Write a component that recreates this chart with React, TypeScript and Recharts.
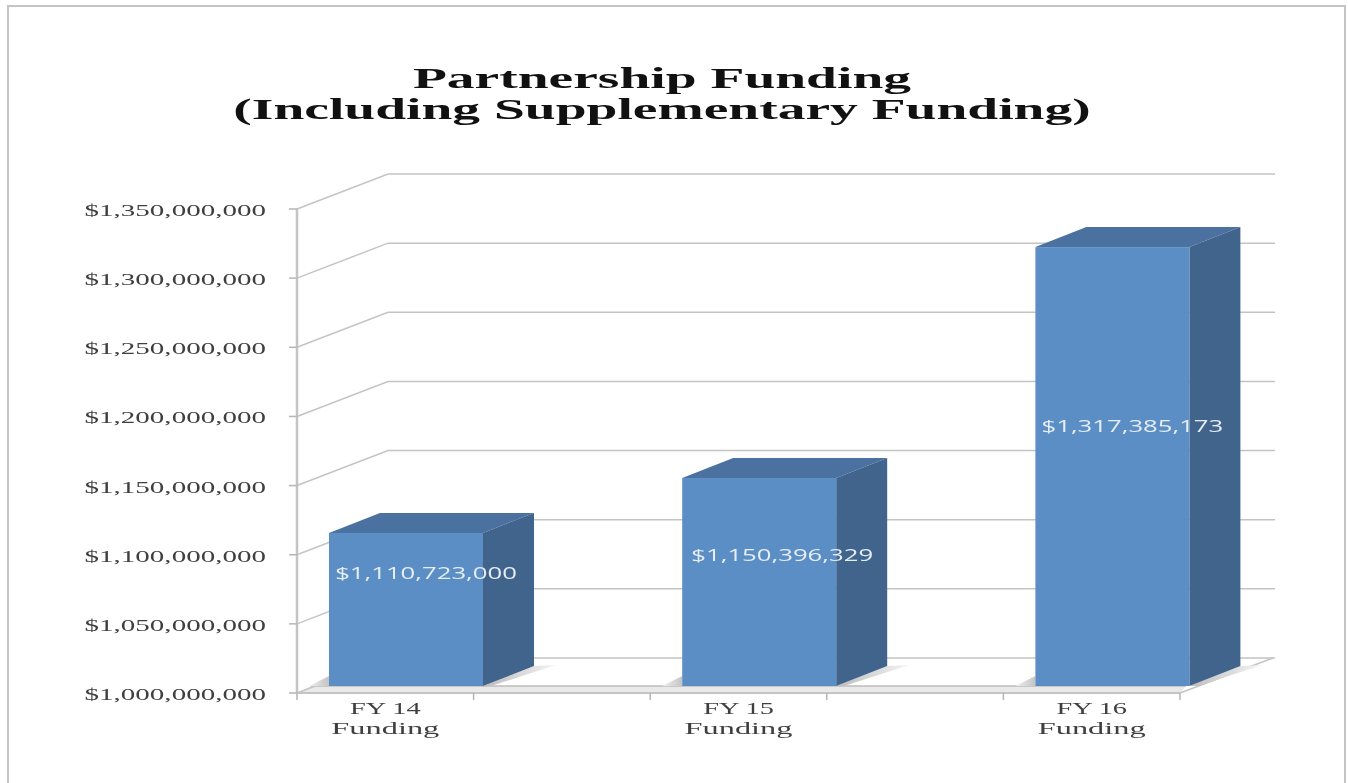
import { BarChart, Bar, XAxis, YAxis, CartesianGrid, LabelList } from 'recharts'

const categories = ['FY 14\nFunding', '', 'FY 15\nFunding', '', 'FY 16\nFunding']
const funding = [1110723000, null, 1150396329, null, 1317385173]
const yTicks = [1000000000, 1050000000, 1100000000, 1150000000, 1200000000, 1250000000, 1300000000, 1350000000]
const titleLines = ['Partnership Funding', '(Including Supplementary Funding)']

const data = categories.map((name, i) => ({ name, funding: funding[i] }))

const SERIF = '"Liberation Serif", serif'
const SANS = '"Open Sans", sans-serif'

// fake 3d: wall depth and bar depth, in px
const WALL_DX = 91
const WALL_DY = -35
const WALL_END = 1275
const BAR_DX = 51
const BAR_DY = -20
const BAR_SHIFT_X = 21
const BAR_SHIFT_Y = -7
const BAND = 176.6
const GRID = '#c4c4c4'

// where each value label sits relative to its bar
const labelDrops = [40, 77, 179]
const labelShifts = [20, 23, 20]

const money = (v: number) => '$' + v.toLocaleString('en-US')

function Stretched({ x, y, sx, children, ...rest }: any) {
  return (
    <text transform={`translate(${x},${y}) scale(${sx},1)`} {...rest}>
      {children}
    </text>
  )
}

function WallLine(props: any) {
  const { x1, x2, y1 } = props
  const bx = x1 + WALL_DX
  const by = y1 + WALL_DY
  const isFloor = y1 > 680
  return (
    <g key={`wall-${y1}`}>
      {isFloor && (
        <>
          <polygon
            points={`${x1},${y1} ${x2},${y1} ${x2 + 6},${y1 - 7} ${x1 + 14},${y1 - 7}`}
            fill="#e9e9e9"
          />
          <line x1={x1 + 14} x2={x2 + 6} y1={y1 - 7} y2={y1 - 7} stroke="#bdbdbd" strokeWidth={1.5} />
          <line x1={x2} y1={y1} x2={x2 + WALL_DX + 2} y2={by} stroke={GRID} strokeWidth={1.5} />
        </>
      )}
      <polyline
        points={`${x1},${y1} ${bx},${by} ${WALL_END},${by}`}
        fill="none"
        stroke={GRID}
        strokeWidth={1.5}
      />
    </g>
  )
}

function Box3D(props: any) {
  const { x, y, width, height, value } = props
  if (value == null || !height) return null
  const l = x + BAR_SHIFT_X
  const r = l + width
  const t = y + BAR_SHIFT_Y
  const b = t + height
  return (
    <g>
      <polygon points={`${l},${b} ${l},${b - 10} ${l - 20},${b}`} fill="url(#shadowLeft)" />
      <polygon
        points={`${r},${b} ${r + BAR_DX},${b + BAR_DY} ${r + BAR_DX + 22},${b + BAR_DY - 1} ${r + 8},${b}`}
        fill="url(#shadowRight)"
      />
      <polygon
        points={`${l},${t} ${l + BAR_DX},${t + BAR_DY} ${r + BAR_DX},${t + BAR_DY} ${r},${t}`}
        fill="#4a719f"
      />
      <polygon
        points={`${r},${t} ${r + BAR_DX},${t + BAR_DY} ${r + BAR_DX},${b + BAR_DY} ${r},${b}`}
        fill="#41648d"
      />
      <rect x={l} y={t} width={width} height={height} fill="#5b8ec4" />
    </g>
  )
}

function ValueLabel(props: any) {
  const { x, y, width, value, index } = props
  if (value == null) return null
  return (
    <Stretched
      x={x + width / 2 + BAR_SHIFT_X + labelShifts[index]}
      y={y + BAR_SHIFT_Y + labelDrops[index] + 6}
      sx={1.66}
      textAnchor="middle"
      fontFamily={SANS}
      fontSize={15.5}
      fill="#e6edf5"
    >
      {money(value)}
    </Stretched>
  )
}

function YTick({ y, payload }: any) {
  return (
    <Stretched
      x={266}
      y={y + 7}
      sx={1.66}
      textAnchor="end"
      fontFamily={SERIF}
      fontSize={17.5}
      fill="#3f3f3f"
    >
      {money(payload.value)}
    </Stretched>
  )
}

function XTick({ x, y, payload, index }: any) {
  const lines = String(payload.value).split('\n')
  return (
    <g>
      <line x1={x - BAND / 2} x2={x - BAND / 2} y1={y - 8} y2={y - 1} stroke="#b5b5b5" strokeWidth={1.5} />
      {index === categories.length - 1 && (
        <line x1={x + BAND / 2} x2={x + BAND / 2} y1={y - 8} y2={y - 1} stroke="#b5b5b5" strokeWidth={1.5} />
      )}
      {lines[0] &&
        lines.map((line, i) => (
          <Stretched
            key={i}
            x={x}
            y={714 + i * 20}
            sx={i === 0 ? 1.62 : 1.85}
            textAnchor="middle"
            fontFamily={SERIF}
            fontSize={17.5}
            fill="#3f3f3f"
          >
            {line}
          </Stretched>
        ))}
    </g>
  )
}

export default function App() {
  return (
    <div
      style={{
        position: 'absolute',
        left: 0,
        top: 0,
        width: 1348,
        height: 783,
        background: '#fff',
        overflow: 'hidden',
        filter: 'blur(0.6px)',
      }}
    >
      <div
        style={{
          position: 'absolute',
          left: 7,
          top: 5,
          width: 1335,
          height: 790,
          border: '2px solid #c4c4c4',
        }}
      />
      <BarChart
        width={1348}
        height={783}
        data={data}
        margin={{ top: 209, right: 168, bottom: 40, left: 97 }}
        style={{ position: 'absolute', left: 0, top: 0 }}
      >
        <defs>
          <linearGradient id="shadowRight" x1="0" y1="0" x2="1" y2="0">
            <stop offset="0" stopColor="#bcbcbc" />
            <stop offset="1" stopColor="#f4f4f4" />
          </linearGradient>
          <linearGradient id="shadowLeft" x1="1" y1="0" x2="0" y2="0">
            <stop offset="0" stopColor="#c4c4c4" />
            <stop offset="1" stopColor="#f0f0f0" />
          </linearGradient>
        </defs>
        <text
          transform="translate(662,88) scale(1.85,1)"
          textAnchor="middle"
          fontFamily={SERIF}
          fontWeight="bold"
          fontSize={30}
          fill="#111"
        >
          {titleLines[0]}
        </text>
        <text
          transform="translate(662,119) scale(1.85,1)"
          textAnchor="middle"
          fontFamily={SERIF}
          fontWeight="bold"
          fontSize={30}
          fill="#111"
        >
          {titleLines[1]}
        </text>
        <CartesianGrid horizontal={WallLine as any} vertical={false} />
        <XAxis
          dataKey="name"
          height={50}
          interval={0}
          tickLine={false}
          axisLine={{ stroke: '#c4c4c4', strokeWidth: 2 }}
          tick={<XTick />}
        />
        <YAxis
          width={200}
          domain={[1000000000, 1350000000]}
          ticks={yTicks}
          tickSize={8}
          tickLine={{ stroke: '#b5b5b5', strokeWidth: 1.5 }}
          axisLine={{ stroke: '#c4c4c4', strokeWidth: 2.5 }}
          tick={<YTick />}
        />
        <Bar dataKey="funding" barSize={154} shape={<Box3D />} isAnimationActive={false}>
          <LabelList dataKey="funding" content={<ValueLabel />} />
        </Bar>
      </BarChart>
    </div>
  )
}
